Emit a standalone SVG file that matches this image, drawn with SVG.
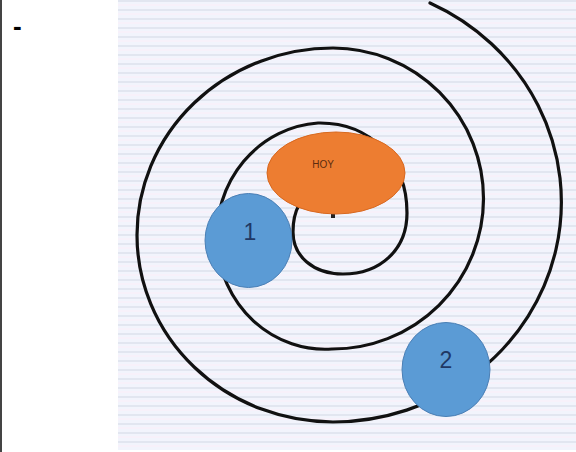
<svg xmlns="http://www.w3.org/2000/svg" width="576" height="452" viewBox="0 0 576 452">
  <defs>
    <pattern id="lines" patternUnits="userSpaceOnUse" width="20" height="9">
      <rect width="20" height="9" fill="#F2F4FC"/>
      <rect y="0" width="20" height="2" fill="#E2E6F0"/>
      <rect y="4" width="20" height="2" fill="#F7F1FA"/>
    </pattern>
    <style>
      .spiral { fill: none; stroke: #111; stroke-width: 3.2; stroke-linecap: round; stroke-linejoin: round; }
      .blue { fill: #5B9BD5; stroke: #4A7FB5; stroke-width: 1; }
      .orange { fill: #ED7D31; stroke: #D8681F; stroke-width: 1; }
      .num { font-family: "Liberation Sans", Arial, sans-serif; font-size: 23px; fill: #1F3864; text-anchor: middle; }
      .hoy { font-family: "Liberation Sans", Arial, sans-serif; font-size: 10px; fill: #5B2C0F; text-anchor: middle; }
    </style>
  </defs>
  <rect width="576" height="452" fill="#FFFFFF"/>
  <rect x="0" y="0" width="2" height="452" fill="#444"/>
  <text x="13" y="35" font-family="Liberation Sans, Arial, sans-serif" font-size="26" font-weight="bold" fill="#000">-</text>
  <rect x="118" y="0" width="458" height="450" fill="url(#lines)"/>
  <g id="connectors">
    <path class="spiral" d="M430,3 A229,220 0 0 1 333,422 A196,187 0 0 1 333,48 A151,150.5 0 0 1 332,349 A108,113 0 0 1 318,123 C370,122 407,160 407,213 C407,250 380,274 343,274 C313,274 293,256 293,232 C293,221 295,212 299,205"/>
    <rect x="331" y="214" width="4" height="4" fill="#222"/>
  </g>
  <g id="hoy">
    <ellipse class="orange" cx="336" cy="173" rx="69" ry="41"/>
    <text class="hoy" x="323" y="168">HOY</text>
  </g>
  <g id="node1">
    <ellipse class="blue" cx="248.5" cy="240.5" rx="43.5" ry="47"/>
    <text class="num" x="250" y="240">1</text>
  </g>
  <g id="node2">
    <ellipse class="blue" cx="446" cy="369.5" rx="44" ry="47"/>
    <text class="num" x="446" y="368">2</text>
  </g>
</svg>
